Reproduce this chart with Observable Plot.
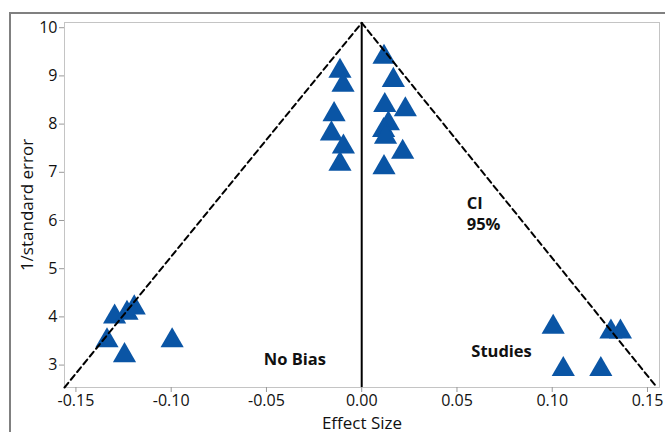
<!DOCTYPE html>
<html>
<head>
<meta charset="utf-8">
<script src="https://cdn.jsdelivr.net/npm/d3@7"></script>
<script src="https://cdn.jsdelivr.net/npm/@observablehq/plot@0.6"></script>
<style>
  html, body { margin: 0; padding: 0; background: #fff; }
  #wrap { position: relative; width: 665px; height: 432px; overflow: hidden; background: #fff; }
  #border { position: absolute; left: 9px; top: 12px; width: 700px; height: 500px; border: 2px solid #808080; pointer-events: none; }
  #chart { position: absolute; left: 0; top: 0; }
</style>
</head>
<body>
<div id="wrap">
  <div id="chart"></div>
  <div id="border"></div>
</div>
<script>
// Study effect sizes and precision (1/standard error)
const effectSize = [
  -0.0114, -0.0098, -0.0145, -0.0159, -0.0096, -0.0114,
  0.0117, 0.0166, 0.0121, 0.0229, 0.0140, 0.0115, 0.0125, 0.0215, 0.0117,
  -0.1297, -0.1232, -0.1194, -0.1337, -0.1245, -0.0995,
  0.1005, 0.1308, 0.1358, 0.1058, 0.1255
];
const precision = [
  9.10, 8.81, 8.20, 7.80, 7.53, 7.17,
  9.39, 8.91, 8.39, 8.30, 8.01, 7.87, 7.73, 7.42, 7.10,
  4.00, 4.08, 4.19, 3.51, 3.20, 3.51,
  3.79, 3.69, 3.69, 2.91, 2.91
];
// 95% confidence funnel
const funnelX = [-0.156, 0, 0.155];
const funnelY = [2.535, 10.10, 2.535];
// axis ticks
const xTicks = [-0.15, -0.10, -0.05, 0.00, 0.05, 0.10, 0.15];
const yTicks = [3, 4, 5, 6, 7, 8, 9, 10];
// annotations
const noteText = ["No Bias", "Studies"];
const noteX = [-0.0351, 0.0734];
const noteY = [3.12, 3.27];
const ciText = ["CI", "95%"];
const ciX = [0.0551, 0.0551];
const ciY = [6.35, 5.91];

const studies = effectSize.map((x, i) => ({x, y: precision[i]}));
const funnel = funnelX.map((x, i) => ({x, y: funnelY[i]}));
const notes = noteText.map((t, i) => ({t, x: noteX[i], y: noteY[i]}));
const ci = ciText.map((t, i) => ({t, x: ciX[i], y: ciY[i]}));

const chart = Plot.plot({
  width: 665,
  height: 432,
  marginLeft: 64,
  marginRight: 6,
  marginTop: 22,
  marginBottom: 45,
  style: {fontFamily: "'Open Sans', sans-serif", fontSize: "16px", color: "#111", background: "white"},
  x: {domain: [-0.156, 0.1563]},
  y: {domain: [2.535, 10.108]},
  marks: [
    Plot.frame({stroke: "#c4c4c4"}),
    Plot.axisX(xTicks, {tickSize: 5, tickPadding: 2, stroke: "#999", fill: "#111", fontSize: 16, tickFormat: d => d.toFixed(2),
      label: null}),
    Plot.axisX({label: "Effect Size", ticks: [], tickSize: 0, labelAnchor: "center", labelArrow: "none",
      labelOffset: 41, fontSize: 17, fill: "#111"}),
    Plot.axisY(yTicks, {tickSize: 5, tickPadding: 2, stroke: "#999", fill: "#111", fontSize: 16, tickFormat: d => String(d),
      label: null}),
    Plot.axisY({label: "1/standard error", ticks: [], tickSize: 0, labelAnchor: "center", labelArrow: "none",
      labelOffset: 44, fontSize: 17, fill: "#111"}),
    Plot.dot(studies, {x: "x", y: "y", symbol: "triangle", r: 8.6, fill: "#0a55a5", stroke: "none"}),
    Plot.line(funnel, {x: "x", y: "y", stroke: "black", strokeWidth: 2, strokeDasharray: "6,4"}),
    Plot.ruleX([0], {y1: 2.535, y2: 10.108, stroke: "black", strokeWidth: 2}),
    Plot.text(notes, {x: "x", y: "y", text: "t", fontWeight: 700, fontSize: 16.5, fill: "#111"}),
    Plot.text(ci, {x: "x", y: "y", text: "t", textAnchor: "start", fontWeight: 700, fontSize: 16.5, fill: "#111"})
  ]
});
document.getElementById("chart").appendChild(chart);
</script>
</body>
</html>
